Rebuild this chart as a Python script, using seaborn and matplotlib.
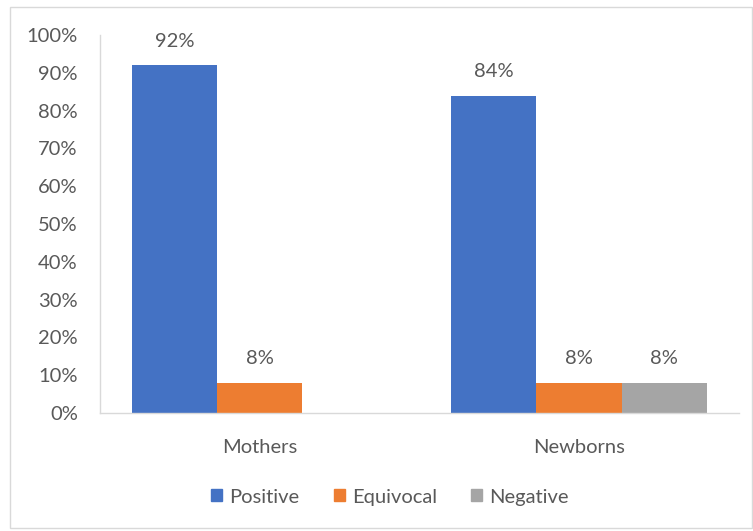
import matplotlib
matplotlib.use("Agg")
import matplotlib.pyplot as plt
import matplotlib.patches as mpatches
import seaborn as sns
import pandas as pd
from matplotlib.ticker import PercentFormatter

# Data
groups = ["Mothers", "Newborns"]
results = ["Positive", "Equivocal", "Negative"]
positive = [92, 84]
equivocal = [8, 8]
negative = [0, 8]
yticks = [0, 10, 20, 30, 40, 50, 60, 70, 80, 90, 100]

colors = ["#4472C4", "#ED7D31", "#A5A5A5"]
text_color = "#595959"
fs = 14.5

rows = []
for i, g in enumerate(groups):
    for r, vals in zip(results, [positive, equivocal, negative]):
        rows.append({"group": g, "result": r, "value": vals[i]})
df = pd.DataFrame(rows)

sns.set_theme(style="white")
plt.rcParams["font.family"] = ["Lato", "DejaVu Sans"]

fig = plt.figure(figsize=(7.53, 5.31), dpi=100)
ax = fig.add_axes([0.1328, 0.2222, 0.8482, 0.7118])

sns.barplot(data=df, x="group", y="value", hue="result", order=groups,
            hue_order=results, palette=colors, width=0.8, saturation=1,
            ax=ax, legend=False, edgecolor="none", linewidth=0)

ax.set_ylim(0, 100)
ax.set_xlim(-0.5, 1.5)
ax.set_yticks(yticks)
ax.yaxis.set_major_formatter(PercentFormatter(decimals=0))
ax.set_xlabel("")
ax.set_ylabel("")
ax.tick_params(axis="y", length=0, pad=16, labelsize=fs, labelcolor=text_color)
ax.tick_params(axis="x", length=0, pad=19, labelsize=fs, labelcolor=text_color)

for side in ["top", "right"]:
    ax.spines[side].set_visible(False)
for side in ["left", "bottom"]:
    ax.spines[side].set_color("#D9D9D9")
    ax.spines[side].set_linewidth(1)

# Value labels above each non-zero bar
for container in ax.containers:
    for bar in container:
        h = bar.get_height()
        if h > 0:
            ax.annotate(f"{h:.0f}%", (bar.get_x() + bar.get_width() / 2, h),
                        xytext=(0, 11), textcoords="offset points",
                        ha="center", va="bottom", fontsize=fs,
                        color=text_color)

handles = [mpatches.Patch(color=c, label=r) for c, r in zip(colors, results)]
fig.legend(handles=handles, loc="center", bbox_to_anchor=(0.518, 0.064),
           ncol=3, frameon=False, fontsize=fs, labelcolor=text_color,
           handlelength=0.55, handleheight=0.55, handletextpad=0.35,
           columnspacing=1.7)

# Chart area border
fig.patches.append(mpatches.Rectangle((0.0133, 0.006), 0.985, 0.981,
                                      transform=fig.transFigure, fill=False,
                                      edgecolor="#D9D9D9", linewidth=1))

fig.savefig("out.png", dpi=100)
